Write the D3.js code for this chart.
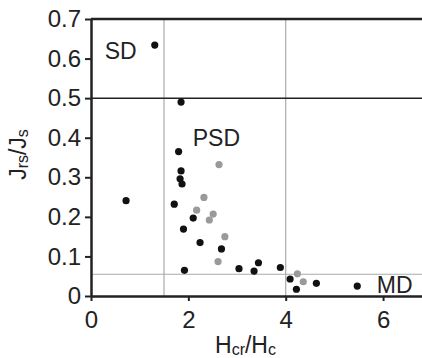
<!DOCTYPE html>
<html lang="en">
<head>
    <meta charset="UTF-8">
    <title>Jrs/Js vs Hcr/Hc</title>
    <script src="https://d3js.org/d3.v7.min.js"></script>
    <style>
        body { margin: 0; background: #fff; }
        svg text { font-family: "Liberation Sans", Arial, sans-serif; fill: #222; }
        .axis path, .axis line { stroke: #222; }
    </style>
</head>
<body>
    <div id="chart"></div>
    <script>
        // Black points (Hcr/Hc, Jrs/Js)
        const blackX = [1.31, 1.85, 1.80, 1.85, 1.83, 1.87, 0.72, 1.71, 2.10, 1.90, 2.24, 2.68, 1.92, 3.04, 3.35, 3.44, 3.89, 4.09, 4.22, 4.63, 5.47];
        const blackY = [0.634, 0.490, 0.365, 0.316, 0.296, 0.283, 0.241, 0.232, 0.197, 0.169, 0.135, 0.119, 0.065, 0.069, 0.063, 0.084, 0.072, 0.043, 0.017, 0.032, 0.025];
        // Gray points
        const grayX = [2.63, 2.32, 2.17, 2.51, 2.43, 2.75, 2.61, 4.24, 4.36];
        const grayY = [0.332, 0.249, 0.217, 0.207, 0.192, 0.150, 0.087, 0.056, 0.036];

        const xTicks = [0, 2, 4, 6];
        const yTicks = [0, 0.1, 0.2, 0.3, 0.4, 0.5, 0.6, 0.7];

        // Region boundaries and labels
        const vLines = [1.5, 4];
        const hGray = 0.055;
        const hBlack = 0.5;
        const regionNames = ["SD", "PSD", "MD"];
        const regionX = [0.28, 2.09, 5.87];
        const regionY = [0.599, 0.379, 0.008];

        const W = 422, H = 358;
        const margin = { top: 19, right: 0, bottom: 62, left: 91 };
        const width = W - margin.left - margin.right,
              height = H - margin.top - margin.bottom;

        const svg = d3.select("#chart").append("svg")
            .attr("width", W).attr("height", H)
            .append("g")
            .attr("transform", `translate(${margin.left},${margin.top})`);

        const x = d3.scaleLinear().domain([0, 6.8]).range([0, width]);
        const y = d3.scaleLinear().domain([0, 0.7]).range([height, 0]);

        // gray guide lines
        svg.selectAll(".vl").data(vLines).enter().append("line")
            .attr("x1", d => x(d)).attr("x2", d => x(d))
            .attr("y1", 0).attr("y2", height)
            .attr("stroke", "#aaa").attr("stroke-width", 1.2);
        svg.append("line")
            .attr("x1", 0).attr("x2", width)
            .attr("y1", y(hGray)).attr("y2", y(hGray))
            .attr("stroke", "#aaa").attr("stroke-width", 1.2);
        svg.append("line")
            .attr("x1", 0).attr("x2", width)
            .attr("y1", y(hBlack)).attr("y2", y(hBlack))
            .attr("stroke", "#222").attr("stroke-width", 1.5);
        // top border
        svg.append("line")
            .attr("x1", 0).attr("x2", width)
            .attr("y1", y(0.7)).attr("y2", y(0.7))
            .attr("stroke", "#222").attr("stroke-width", 2.5);

        // axes
        const xAxis = svg.append("g").attr("class", "axis")
            .attr("transform", `translate(0,${height})`)
            .call(d3.axisBottom(x).tickValues(xTicks).tickSize(5).tickPadding(10).tickSizeOuter(0)
                .tickFormat(d3.format("d")));
        const yAxis = svg.append("g").attr("class", "axis")
            .call(d3.axisLeft(y).tickValues(yTicks).tickSize(6).tickPadding(4).tickSizeOuter(0)
                .tickFormat(d => d === 0 ? "0" : d3.format(".1f")(d)));
        [xAxis, yAxis].forEach(a => {
            a.select(".domain").attr("stroke-width", 2.5);
            a.selectAll(".tick line").attr("stroke-width", 2);
            a.selectAll("text").style("font-size", "24px").attr("fill", "#222");
        });

        // points
        svg.selectAll(".gp").data(d3.range(grayX.length)).enter().append("circle")
            .attr("cx", i => x(grayX[i])).attr("cy", i => y(grayY[i]))
            .attr("r", 3.6).attr("fill", "#9a9a9a");
        svg.selectAll(".bp").data(d3.range(blackX.length)).enter().append("circle")
            .attr("cx", i => x(blackX[i])).attr("cy", i => y(blackY[i]))
            .attr("r", 3.6).attr("fill", "#111");

        // region labels
        svg.selectAll(".region").data(regionNames).enter().append("text")
            .attr("x", (d, i) => x(regionX[i])).attr("y", (d, i) => y(regionY[i]))
            .style("font-size", "23px")
            .text(d => d);

        // axis titles
        const xt = svg.append("text")
            .attr("x", 124).attr("y", height + 57)
            .style("font-size", "23px");
        xt.append("tspan").text("H");
        xt.append("tspan").attr("dy", 2).style("font-size", "16px").text("cr");
        xt.append("tspan").attr("dy", -2).text("/H");
        xt.append("tspan").attr("dy", 2).style("font-size", "16px").text("c");

        const yt = svg.append("text")
            .attr("transform", `translate(${26 - margin.left},${height / 2 - 3}) rotate(-90)`)
            .attr("text-anchor", "middle")
            .style("font-size", "23px");
        yt.append("tspan").text("J");
        yt.append("tspan").attr("dy", 2).style("font-size", "16px").text("rs");
        yt.append("tspan").attr("dy", -2).text("/J");
        yt.append("tspan").attr("dy", 2).style("font-size", "16px").text("s");
    </script>
</body>
</html>
